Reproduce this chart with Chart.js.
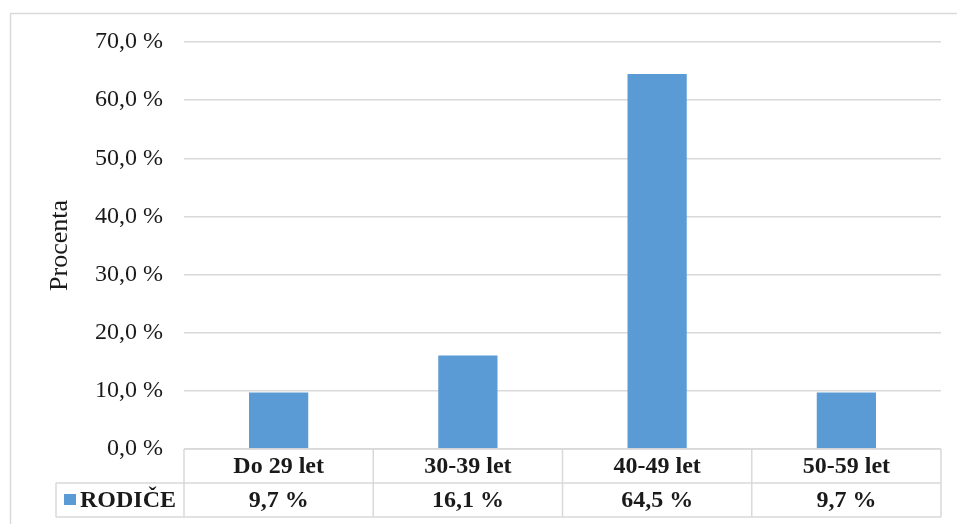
<!DOCTYPE html>
<html>
<head>
<meta charset="utf-8">
<script src="https://cdn.jsdelivr.net/npm/chart.js@4/dist/chart.umd.min.js"></script>
<style>
  html, body { margin: 0; padding: 0; background: #ffffff; }
  #wrap { width: 957px; height: 524px; position: relative; }
</style>
</head>
<body>
<div id="wrap"><canvas id="chart" width="957" height="524"></canvas></div>
<script>
// Age groups and share of parents (percent)
const categories = ['Do 29 let', '30-39 let', '40-49 let', '50-59 let'];
const seriesName = 'RODIČE';
const rodice = [9.7, 16.1, 64.5, 9.7];

const FONT = "'Liberation Serif', 'Times New Roman', serif";
const TEXT = '#1a1a1a';
const LINE = '#d9d9d9';
const BAR = '#5b9bd5';

const fmt = v => v.toFixed(1).replace('.', ',') + ' %';

// Outer frame of the figure
const framePlugin = {
  id: 'frame',
  beforeDraw(chart) {
    const ctx = chart.ctx;
    ctx.save();
    ctx.strokeStyle = LINE;
    ctx.lineWidth = 1.5;
    ctx.beginPath();
    ctx.moveTo(10.5, chart.height + 2);
    ctx.lineTo(10.5, 13.5);
    ctx.lineTo(chart.width + 2, 13.5);
    ctx.stroke();
    ctx.restore();
  }
};

// Data table under the plot: category row and value row with legend key
const tablePlugin = {
  id: 'dataTable',
  afterDraw(chart) {
    const ctx = chart.ctx;
    const xs = chart.scales.x;
    const area = chart.chartArea;
    const n = categories.length;
    const colW = (area.right - area.left) / n;
    const rowH = 34;
    const y0 = area.bottom;
    const y1 = y0 + rowH;
    const y2 = y1 + rowH;
    const legendLeft = 56;

    ctx.save();
    ctx.strokeStyle = LINE;
    ctx.lineWidth = 1.5;
    ctx.beginPath();
    // horizontal rules
    ctx.moveTo(area.left, y0); ctx.lineTo(area.right, y0);
    ctx.moveTo(legendLeft, y1); ctx.lineTo(area.right, y1);
    ctx.moveTo(legendLeft, y2); ctx.lineTo(area.right, y2);
    // vertical rules
    for (let i = 0; i <= n; i++) {
      const x = area.left + i * colW;
      ctx.moveTo(x, y0); ctx.lineTo(x, y2);
    }
    ctx.moveTo(legendLeft, y1); ctx.lineTo(legendLeft, y2);
    ctx.stroke();

    ctx.fillStyle = TEXT;
    ctx.font = "bold 24px " + FONT;
    ctx.textAlign = 'center';
    ctx.textBaseline = 'middle';
    categories.forEach((c, i) => {
      const cx = xs.getPixelForValue(i);
      ctx.fillText(c, cx, (y0 + y1) / 2 + 1);
      ctx.fillText(fmt(rodice[i]), cx, (y1 + y2) / 2 + 1);
    });

    // legend key
    ctx.fillStyle = BAR;
    ctx.fillRect(64, 494, 12, 11);
    ctx.fillStyle = TEXT;
    ctx.textAlign = 'left';
    ctx.fillText(seriesName, 80, (y1 + y2) / 2 + 1);
    ctx.restore();
  }
};

new Chart(document.getElementById('chart'), {
  type: 'bar',
  data: {
    labels: categories,
    datasets: [{
      label: seriesName,
      data: rodice,
      backgroundColor: BAR,
      borderWidth: 0,
      categoryPercentage: 1,
      barPercentage: 0.313
    }]
  },
  options: {
    responsive: false,
    animation: false,
    layout: { padding: { left: 40, top: 42, right: 16, bottom: 75 } },
    plugins: {
      legend: { display: false },
      tooltip: { enabled: false }
    },
    scales: {
      x: { display: false },
      y: {
        min: 0,
        max: 70,
        ticks: {
          stepSize: 10,
          padding: 21,
          color: TEXT,
          font: { family: FONT, size: 24 },
          callback: v => fmt(v)
        },
        grid: { color: LINE, lineWidth: 1.5, drawTicks: false },
        border: { display: false },
        title: {
          display: true,
          text: 'Procenta',
          color: TEXT,
          font: { family: FONT, size: 26 },
          padding: { top: 5, bottom: 0 }
        },
        afterFit(scale) { scale.width = 144; }
      }
    }
  },
  plugins: [framePlugin, tablePlugin]
});
</script>
</body>
</html>
